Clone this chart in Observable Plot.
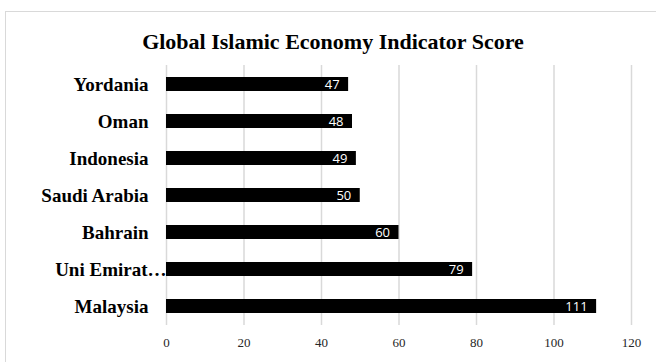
<!DOCTYPE html>
<html>
<head>
<meta charset="utf-8">
<script src="https://cdn.jsdelivr.net/npm/d3@7"></script>
<script src="https://cdn.jsdelivr.net/npm/@observablehq/plot@0.6"></script>
<style>
  html, body { margin: 0; padding: 0; background: #fff; overflow: hidden; width: 656px; height: 362px; }
  #wrap { position: relative; width: 656px; height: 362px; }
  #frame { position: absolute; left: 5px; top: 11px; width: 700px; height: 400px; border: 1.5px solid #d9d9d9; box-sizing: border-box; }
  #title { position: absolute; left: 0; top: 28px; width: 666px; text-align: center; font: bold 22px "Liberation Serif", "Times New Roman", serif; line-height: 28px; color: #000; }
  #chart { position: absolute; left: 0; top: 0; }
</style>
</head>
<body>
<div id="wrap">
  <div id="frame"></div>
  <div id="chart"></div>
  <div id="title">Global Islamic Economy Indicator Score</div>
</div>
<script>
const countries = ["Yordania", "Oman", "Indonesia", "Saudi Arabia", "Bahrain", "Uni Emirat Arab", "Malaysia"];
const tickLabels = ["Yordania", "Oman", "Indonesia", "Saudi Arabia", "Bahrain", "Uni Emirat…", "Malaysia"];
const scores = [47, 48, 49, 50, 60, 79, 111];
const xTicks = [0, 20, 40, 60, 80, 100, 120];

const data = countries.map((c, i) => ({country: c, score: scores[i]}));
const labelOf = new Map(countries.map((c, i) => [c, tickLabels[i]]));
const truncated = countries.filter((c, i) => tickLabels[i] !== c);
const full = countries.filter((c, i) => tickLabels[i] === c);

const chart = Plot.plot({
  width: 656,
  height: 362,
  marginLeft: 166,
  marginRight: 25,
  marginTop: 65,
  marginBottom: 37,
  x: {domain: [0, 120], ticks: xTicks},
  y: {domain: countries, paddingInner: 0.61, paddingOuter: 0.305},
  style: {background: "transparent"},
  marks: [
    Plot.ruleX(xTicks, {stroke: "#d9d9d9", strokeWidth: 1.5}),
    Plot.barX(data, {y: "country", x: "score", fill: "#000"}),
    Plot.text(data, {
      y: "country", x: "score", text: d => String(d.score),
      textAnchor: "end", dx: -9, fill: "#fff",
      fontFamily: "Open Sans", fontSize: 13
    }),
    Plot.axisX({
      ticks: xTicks, tickSize: 0, tickPadding: 12, label: null,
      fontFamily: "Liberation Serif", fontSize: 13, fill: "#262626"
    }),
    Plot.axisY({
      ticks: full, tickSize: 0, tickPadding: 18, label: null,
      tickFormat: d => labelOf.get(d),
      fontFamily: "Liberation Serif", fontSize: 19, fontWeight: "bold", fill: "#000"
    }),
    Plot.axisY({
      ticks: truncated, tickSize: 0, tickPadding: 0, label: null,
      tickFormat: d => labelOf.get(d),
      fontFamily: "Liberation Serif", fontSize: 19, fontWeight: "bold", fill: "#000"
    })
  ]
});
document.getElementById("chart").appendChild(chart);
</script>
</body>
</html>
